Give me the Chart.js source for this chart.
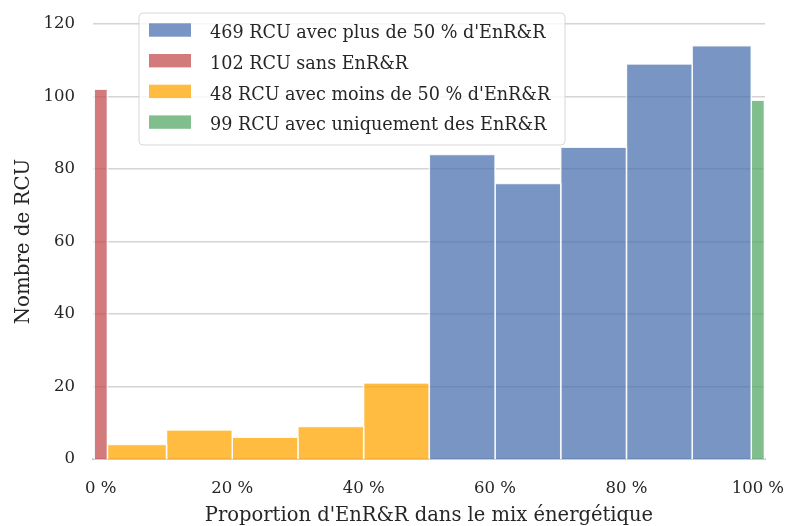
<!DOCTYPE html>
<html>
<head>
<meta charset="utf-8">
<script src="https://cdn.jsdelivr.net/npm/chart.js@4/dist/chart.umd.min.js"></script>
<style>
  html, body { margin: 0; padding: 0; background: #ffffff; }
  #wrap { width: 785px; height: 526px; position: relative; }
</style>
</head>
<body>
<div id="wrap"><canvas id="c" width="785" height="526"></canvas></div>
<script>
// ---- Data ----
const groupLabels = [
  "469 RCU avec plus de 50 % d'EnR&R",
  "102 RCU sans EnR&R",
  "48 RCU avec moins de 50 % d'EnR&R",
  "99 RCU avec uniquement des EnR&R"
];
const plusEdges  = [50, 60, 70, 80, 90, 99];
const plusCounts = [84, 76, 86, 109, 114];
const sansEdges  = [-1, 1];
const sansCounts = [102];
const moinsEdges  = [1, 10, 20, 30, 40, 50];
const moinsCounts = [4, 8, 6, 9, 21];
const uniqEdges  = [99, 101];
const uniqCounts = [99];
const xTicks = [0, 20, 40, 60, 80, 100];
const yTicks = [0, 20, 40, 60, 80, 100, 120];

const groupColors = [
  'rgba(76,114,176,0.75)',
  'rgba(196,78,82,0.75)',
  'rgba(255,165,0,0.75)',
  'rgba(85,168,104,0.75)'
];
const groups = [
  [plusEdges, plusCounts],
  [sansEdges, sansCounts],
  [moinsEdges, moinsCounts],
  [uniqEdges, uniqCounts]
];

const datasets = [];
groups.forEach(([edges, counts], g) => {
  counts.forEach((c, i) => {
    const x0 = edges[i], x1 = edges[i + 1];
    datasets.push({
      label: groupLabels[g],
      data: [{x: x0, y: 0}, {x: x0, y: c}, {x: x1, y: c}, {x: x1, y: 0}],
      showLine: true,
      fill: 'origin',
      backgroundColor: groupColors[g],
      borderColor: 'rgba(255,255,255,0.85)',
      borderWidth: 1.5,
      pointRadius: 0,
      pointHoverRadius: 0,
      tension: 0
    });
  });
});

const TEXT = '#262626';
const FONT = "'DejaVu Serif', serif";

const legendPlugin = {
  id: 'boxLegend',
  afterDraw(chart) {
    const ctx = chart.ctx;
    const x = 139, y = 13, w = 426, h = 132;
    ctx.save();
    ctx.beginPath();
    ctx.roundRect(x, y, w, h, 4);
    ctx.fillStyle = 'rgba(255,255,255,0.8)';
    ctx.fill();
    ctx.strokeStyle = '#d8d8d8';
    ctx.lineWidth = 1;
    ctx.stroke();
    ctx.font = "17.6px " + FONT;
    ctx.textBaseline = 'alphabetic';
    ctx.textAlign = 'left';
    groupLabels.forEach((lab, i) => {
      const cy = 30 + i * 30.7;
      ctx.fillStyle = groupColors[i];
      ctx.fillRect(149, cy - 6.7, 42, 13.4);
      ctx.fillStyle = TEXT;
      ctx.fillText(lab, 210, cy + 8.3);
    });
    ctx.restore();
  }
};

Chart.defaults.font.family = FONT;
Chart.defaults.color = TEXT;

new Chart(document.getElementById('c'), {
  type: 'scatter',
  data: { datasets },
  options: {
    responsive: false,
    animation: false,
    events: [],
    layout: { padding: { left: 0, right: 20, top: 24, bottom: 0 } },
    plugins: {
      legend: { display: false },
      tooltip: { enabled: false }
    },
    scales: {
      x: {
        type: 'linear',
        min: -1.19,
        max: 101.09,
        afterFit: s => { s.height = 67; s.paddingLeft = 0; s.paddingRight = 0; },
        afterBuildTicks: s => { s.ticks = xTicks.map(v => ({value: v})); },
        grid: { display: false, drawTicks: false },
        border: { display: true, color: '#cccccc', width: 2 },
        ticks: {
          stepSize: 20,
          includeBounds: false,
          padding: 20,
          maxRotation: 0,
          autoSkip: false,
          color: TEXT,
          font: { size: 16.5 },
          callback: v => v + ' %'
        },
        title: {
          display: true,
          text: "Proportion d'EnR&R dans le mix énergétique",
          color: TEXT,
          font: { size: 19.5, lineHeight: 1.0 },
          padding: { top: 0, bottom: 0 }
        }
      },
      y: {
        type: 'linear',
        min: 0,
        max: 120,
        afterFit: s => { s.width = 93; s.paddingTop = 0; s.paddingBottom = 0; },
        afterBuildTicks: s => { s.ticks = yTicks.map(v => ({value: v})); },
        grid: { display: true, color: '#d4d4d4', lineWidth: 1.5, drawTicks: false },
        border: { display: false },
        ticks: {
          stepSize: 20,
          padding: 18,
          color: TEXT,
          font: { size: 16.5 }
        },
        title: {
          display: true,
          text: 'Nombre de RCU',
          color: TEXT,
          font: { size: 19.8 },
          padding: { top: 12, bottom: 0 }
        }
      }
    }
  },
  plugins: [legendPlugin]
});
</script>
</body>
</html>
